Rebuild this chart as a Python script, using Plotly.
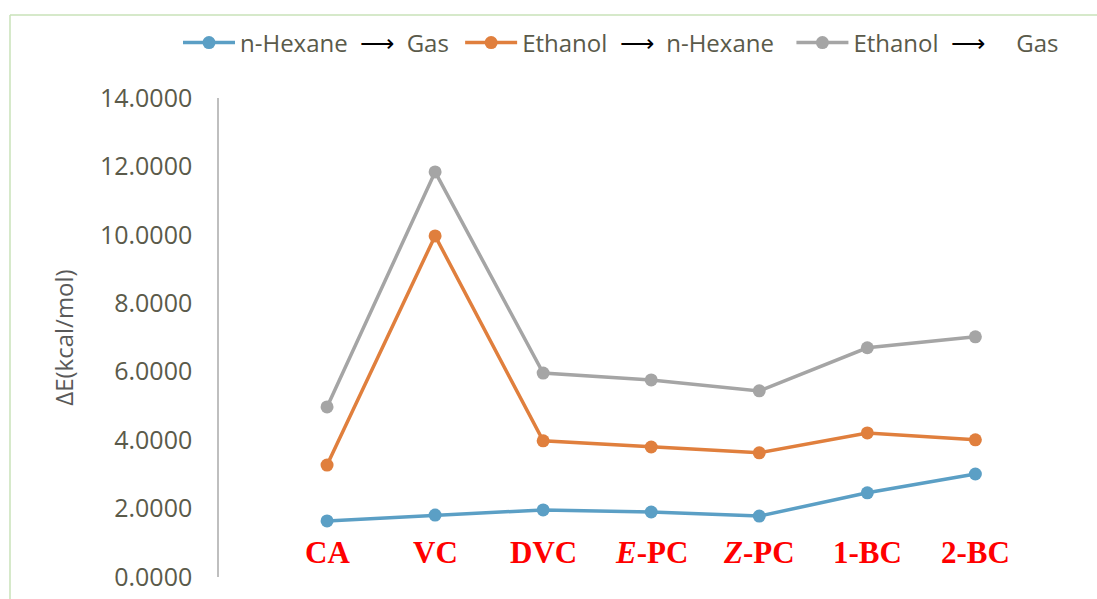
import plotly.graph_objects as go

categories = ["CA", "VC", "DVC", "E-PC", "Z-PC", "1-BC", "2-BC"]
category_labels = ["CA", "VC", "DVC", "<i>E</i>-PC", "<i>Z</i>-PC", "1-BC", "2-BC"]
hexane_to_gas = [1.64, 1.81, 1.96, 1.90, 1.78, 2.46, 3.01]
ethanol_to_hexane = [3.27, 9.97, 3.98, 3.80, 3.63, 4.21, 4.01]
ethanol_to_gas = [4.97, 11.84, 5.96, 5.76, 5.44, 6.70, 7.02]
y_ticks = [0, 2, 4, 6, 8, 10, 12, 14]
y_tick_text = ["%.4f" % v for v in y_ticks]

NB = "\u00a0"
ARROW = "<span style='color:black'>\u27f6</span>"
series = [
    ("n-Hexane" + NB * 2 + ARROW + NB * 2 + "Gas" + NB, hexane_to_gas, "#5b9fc5"),
    ("Ethanol" + NB * 2 + ARROW + NB * 2 + "n-Hexane" + NB * 2, ethanol_to_hexane, "#e07f3d"),
    ("Ethanol" + NB * 2 + ARROW + NB * 5 + "Gas", ethanol_to_gas, "#a5a5a5"),
]

fig = go.Figure()
for name, vals, color in series:
    fig.add_trace(go.Scatter(
        x=categories, y=vals, name=name, mode="lines+markers",
        line=dict(color=color, width=3.5),
        marker=dict(color=color, size=13),
    ))

for cat, lab in zip(categories, category_labels):
    fig.add_annotation(
        x=cat, y=0.72, xref="x", yref="y", text="<b>" + lab + "</b>",
        showarrow=False,
        font=dict(family="Liberation Serif", size=31, color="#ff0000"),
    )

W, H = 1097, 599
ml, mr, mt, mb = 219, 46, 98, 22
pw, ph = W - ml - mr, H - mt - mb

def px_to_paper_x(px):
    return (px - ml) / pw

def px_to_paper_y(py):
    return (H - mb - py) / ph

border_color = "#c8e2b8"
fig.add_shape(type="line", xref="paper", yref="paper",
              x0=px_to_paper_x(10), x1=px_to_paper_x(1200),
              y0=px_to_paper_y(15), y1=px_to_paper_y(15),
              line=dict(color=border_color, width=1.5))
fig.add_shape(type="line", xref="paper", yref="paper",
              x0=px_to_paper_x(10), x1=px_to_paper_x(10),
              y0=px_to_paper_y(15), y1=px_to_paper_y(700),
              line=dict(color=border_color, width=1.5))

fig.update_layout(
    width=W, height=H,
    margin=dict(l=ml, r=mr, t=mt, b=mb, autoexpand=False),
    plot_bgcolor="white", paper_bgcolor="white",
    font=dict(family="Open Sans", color="#5a5a4a"),
    showlegend=True,
    legend=dict(
        orientation="h", xref="paper", yref="paper",
        x=px_to_paper_x(178), y=px_to_paper_y(43), xanchor="left", yanchor="middle",
        font=dict(size=24, color="#5a5a4a"),
        itemwidth=52,
        bgcolor="rgba(0,0,0,0)",
    ),
    xaxis=dict(
        type="category", range=[-1, 6.7],
        showticklabels=False, showline=False, showgrid=False, zeroline=False,
    ),
    yaxis=dict(
        range=[0, 14], tickvals=y_ticks, ticktext=y_tick_text,
        showline=True, linecolor="#bfbfbf", linewidth=1.5,
        showgrid=False, zeroline=False,
        ticks="", ticklabelstandoff=20,
        tickfont=dict(size=25, color="#5a5a4a"),
        title=dict(text="\u0394E(kcal/mol)", font=dict(size=24, color="#595959"), standoff=20),
    ),
)

fig.write_html("out.html", config={"displayModeBar": False},
               post_script="document.body.style.margin='0';document.body.style.overflow='hidden';")
